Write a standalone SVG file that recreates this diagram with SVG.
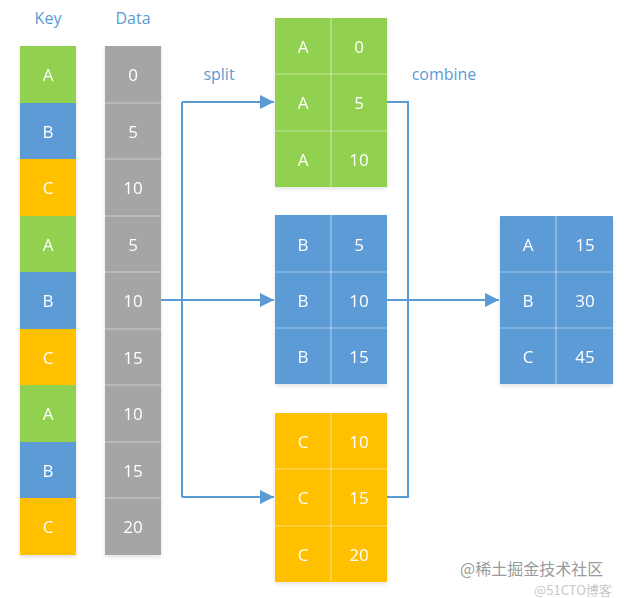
<svg xmlns="http://www.w3.org/2000/svg" width="639" height="598" viewBox="0 0 639 598">
<style>
.lbl{font-family:"Open Sans","Liberation Sans",sans-serif;font-size:16px;fill:#5B9BD5;}
.t{font-family:"Open Sans","Liberation Sans",sans-serif;font-size:17px;fill:#FFFFFF;text-anchor:middle;dominant-baseline:central;}
.g{fill:#92D050;}
.b{fill:#5B9BD5;}
.o{fill:#FFC000;}
.y{fill:#A5A5A5;}
.c{stroke:#FFFFFF;stroke-opacity:0.45;stroke-width:1.2;}
.cn{fill:none;stroke:#5B9BD5;stroke-width:2;}
.wm{font-family:"Noto Sans CJK SC","Liberation Sans",sans-serif;font-size:16px;fill:#9a9a9a;}
</style>
<defs>
<marker id="ah" viewBox="0 0 10 10" refX="10" refY="5" markerWidth="14" markerHeight="14" markerUnits="userSpaceOnUse" orient="auto" preserveAspectRatio="none">
<path d="M0,0 L10,5 L0,10 Z" fill="#5B9BD5"/>
</marker>
<filter id="sh" x="-10%" y="-5%" width="120%" height="115%">
<feGaussianBlur in="SourceAlpha" stdDeviation="2"/>
<feOffset dy="2"/>
<feComponentTransfer><feFuncA type="linear" slope="0.12"/></feComponentTransfer>
<feMerge><feMergeNode/><feMergeNode in="SourceGraphic"/></feMerge>
</filter>
</defs>
<rect width="639" height="598" fill="#FFFFFF"/>
<text class="lbl" x="48" y="24" text-anchor="middle">Key</text>
<text class="lbl" x="133" y="24" text-anchor="middle">Data</text>
<text class="lbl" x="219" y="80" text-anchor="middle">split</text>
<text class="lbl" x="444" y="80" text-anchor="middle">combine</text>

<g id="key" filter="url(#sh)">
<rect class="g" x="20" y="46" width="56" height="57"/>
<rect class="b" x="20" y="103" width="56" height="56"/>
<rect class="o" x="20" y="159" width="56" height="57"/>
<rect class="g" x="20" y="216" width="56" height="56"/>
<rect class="b" x="20" y="272" width="56" height="57"/>
<rect class="o" x="20" y="329" width="56" height="56"/>
<rect class="g" x="20" y="385" width="56" height="57"/>
<rect class="b" x="20" y="442" width="56" height="56"/>
<rect class="o" x="20" y="498" width="56" height="57"/>
<text class="t" x="48" y="74">A</text>
<text class="t" x="48" y="131">B</text>
<text class="t" x="48" y="187">C</text>
<text class="t" x="48" y="244">A</text>
<text class="t" x="48" y="300">B</text>
<text class="t" x="48" y="357">C</text>
<text class="t" x="48" y="413">A</text>
<text class="t" x="48" y="470">B</text>
<text class="t" x="48" y="526">C</text>
</g>

<g id="data" filter="url(#sh)">
<rect class="y" x="105" y="46" width="56" height="509"/>
<g class="c">
<line x1="105" y1="103" x2="161" y2="103"/>
<line x1="105" y1="159" x2="161" y2="159"/>
<line x1="105" y1="216" x2="161" y2="216"/>
<line x1="105" y1="272" x2="161" y2="272"/>
<line x1="105" y1="329" x2="161" y2="329"/>
<line x1="105" y1="385" x2="161" y2="385"/>
<line x1="105" y1="442" x2="161" y2="442"/>
<line x1="105" y1="498" x2="161" y2="498"/>
</g>
<text class="t" x="133" y="74">0</text>
<text class="t" x="133" y="131">5</text>
<text class="t" x="133" y="187">10</text>
<text class="t" x="133" y="244">5</text>
<text class="t" x="133" y="300">10</text>
<text class="t" x="133" y="357">15</text>
<text class="t" x="133" y="413">10</text>
<text class="t" x="133" y="470">15</text>
<text class="t" x="133" y="526">20</text>
</g>

<g id="groupA" filter="url(#sh)">
<rect class="g" x="275" y="18" width="112" height="169"/>
<g class="c">
<line x1="331" y1="18" x2="331" y2="187"/>
<line x1="275" y1="74" x2="387" y2="74"/>
<line x1="275" y1="131" x2="387" y2="131"/>
</g>
<text class="t" x="303" y="46">A</text><text class="t" x="359" y="46">0</text>
<text class="t" x="303" y="102">A</text><text class="t" x="359" y="102">5</text>
<text class="t" x="303" y="159">A</text><text class="t" x="359" y="159">10</text>
</g>

<g id="groupB" filter="url(#sh)">
<rect class="b" x="275" y="215" width="112" height="169"/>
<g class="c">
<line x1="331" y1="215" x2="331" y2="384"/>
<line x1="275" y1="272" x2="387" y2="272"/>
<line x1="275" y1="328" x2="387" y2="328"/>
</g>
<text class="t" x="303" y="244">B</text><text class="t" x="359" y="244">5</text>
<text class="t" x="303" y="300">B</text><text class="t" x="359" y="300">10</text>
<text class="t" x="303" y="356">B</text><text class="t" x="359" y="356">15</text>
</g>

<g id="groupC" filter="url(#sh)">
<rect class="o" x="275" y="413" width="112" height="169"/>
<g class="c">
<line x1="331" y1="413" x2="331" y2="582"/>
<line x1="275" y1="469" x2="387" y2="469"/>
<line x1="275" y1="526" x2="387" y2="526"/>
</g>
<text class="t" x="303" y="441">C</text><text class="t" x="359" y="441">10</text>
<text class="t" x="303" y="497">C</text><text class="t" x="359" y="497">15</text>
<text class="t" x="303" y="554">C</text><text class="t" x="359" y="554">20</text>
</g>

<g id="result" filter="url(#sh)">
<rect class="b" x="500" y="216" width="113" height="168"/>
<g class="c">
<line x1="556" y1="216" x2="556" y2="384"/>
<line x1="500" y1="272" x2="613" y2="272"/>
<line x1="500" y1="328" x2="613" y2="328"/>
</g>
<text class="t" x="528" y="244">A</text><text class="t" x="585" y="244">15</text>
<text class="t" x="528" y="300">B</text><text class="t" x="585" y="300">30</text>
<text class="t" x="528" y="356">C</text><text class="t" x="585" y="356">45</text>
</g>

<g id="connectors">
<path class="cn" d="M161,300 H182"/>
<path class="cn" d="M182,102 V497"/>
<path class="cn" d="M182,102 H274" marker-end="url(#ah)"/>
<path class="cn" d="M182,300 H274" marker-end="url(#ah)"/>
<path class="cn" d="M182,497 H274" marker-end="url(#ah)"/>
<path class="cn" d="M387,102 H408 V497 H387"/>
<path class="cn" d="M387,300 H499" marker-end="url(#ah)"/>
</g>

<text class="wm" x="460" y="575">@稀土掘金技术社区</text>
<text class="wm" x="534" y="595" style="font-size:13px;fill:#c8c8c8">@51CTO博客</text>
</svg>
